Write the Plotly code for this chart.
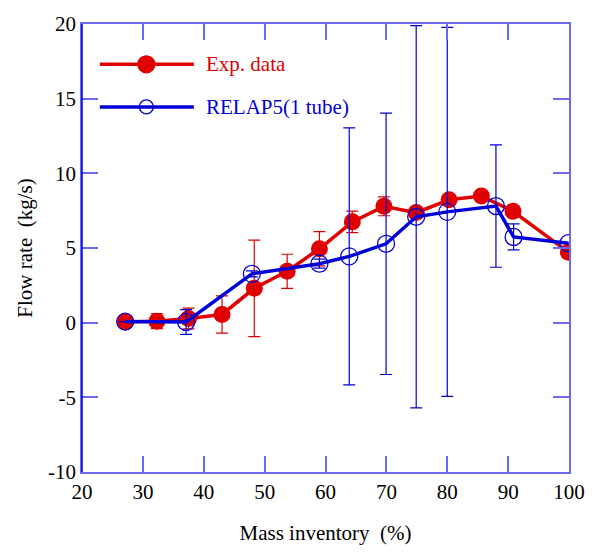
import plotly.graph_objects as go

# Experimental data
exp_x = [27.1, 32.3, 37.5, 43.0, 48.3, 53.7, 59.0, 64.4, 69.6, 74.9, 80.3, 85.6, 90.8, 99.9]
exp_y = [0.05, 0.1, 0.28, 0.55, 2.3, 3.44, 4.95, 6.75, 7.79, 7.37, 8.23, 8.48, 7.46, 4.72]
exp_err = [0.0, 0.5, 0.7, 1.25, 3.23, 1.14, 1.15, 0.72, 0.63, 0.0, 0.0, 0.0, 0.0, 0.0]

# RELAP5 (1 tube)
rel_x = [27.1, 37.1, 47.9, 59.0, 63.9, 69.95, 74.9, 80.0, 88.0, 90.9, 99.9]
rel_y = [0.07, 0.05, 3.27, 3.95, 4.44, 5.28, 7.09, 7.42, 7.81, 5.74, 5.32]
rel_err = [0.0, 0.83, 0.2, 0.3, 8.6, 8.75, 12.8, 12.35, 4.1, 0.87, 0.0]

x_ticks = [20, 30, 40, 50, 60, 70, 80, 90, 100]
x_labels = ["20", "30", "40", "50", "60", "70", "80", "90", "100"]
y_ticks = [-10, -5, 0, 5, 10, 15, 20]
y_labels = ["-10", "-5", "0", "5", "10", "15", "20"]

RED = "#e00000"
BLUE = "#0000d8"
FRAME = "#6a6af0"
FONT = "Liberation Serif"
XR = [20, 100]
YR = [-10, 20]

fig = go.Figure()

fig.add_trace(go.Scatter(
    x=exp_x, y=exp_y, mode="lines+markers", name="Exp. data",
    line=dict(color=RED, width=3.5),
    marker=dict(symbol="circle", size=17, color=RED),
    error_y=dict(type="data", array=exp_err, color=RED, thickness=1.2, width=6),
    showlegend=False,
))
fig.add_trace(go.Scatter(
    x=rel_x, y=rel_y, mode="lines+markers", name="RELAP5(1 tube)",
    line=dict(color=BLUE, width=3.5),
    marker=dict(symbol="circle-open", size=17, color=BLUE, line=dict(width=1.3, color=BLUE)),
    error_y=dict(type="data", array=rel_err, color=BLUE, thickness=1.2, width=6),
    showlegend=False,
))

# Custom legend (decoration, positioned in paper fractions)
def px_to_frac_x(px):
    return (px - 82) / 492

legend_items = [("Exp. data", RED, "circle", 17, 0.910), ("RELAP5(1 tube)", BLUE, "circle-open", 14, 0.815)]
for label, col, sym, sz, yp in legend_items:
    fig.add_shape(type="line", xref="paper", yref="paper",
                  x0=px_to_frac_x(100), x1=px_to_frac_x(195), y0=yp, y1=yp,
                  line=dict(color=col, width=3.5))
    fig.add_annotation(xref="paper", yref="paper", x=px_to_frac_x(205), y=yp, text=label,
                       showarrow=False, xanchor="left", yanchor="middle",
                       font=dict(family=FONT, size=21, color=col))
    mx = XR[0] + px_to_frac_x(147) * (XR[1] - XR[0])
    my = YR[0] + yp * (YR[1] - YR[0])
    fig.add_trace(go.Scatter(x=[mx], y=[my], mode="markers", showlegend=False, hoverinfo="skip",
                             marker=dict(symbol=sym, size=sz, color=col, line=dict(width=1.3, color=col))))

# dark left axis line
fig.add_shape(type="line", xref="paper", yref="paper", x0=0, x1=0, y0=0, y1=1,
              line=dict(color="#0000e8", width=1.5))

fig.update_layout(
    width=597, height=553,
    margin=dict(l=82, r=23, t=20, b=80),
    paper_bgcolor="white", plot_bgcolor="white",
)
fig.update_xaxes(range=XR, tickvals=x_ticks, ticktext=x_labels,
                 ticks="inside", ticklen=16, tickcolor=FRAME, tickwidth=1.5,
                 showline=True, linecolor=FRAME, linewidth=1.5, mirror="allticks",
                 showgrid=False, zeroline=False,
                 tickfont=dict(family=FONT, size=21, color="black"),
                 title=dict(text="Mass inventory  (%)", font=dict(family=FONT, size=21, color="black"), standoff=22))
fig.update_yaxes(range=YR, tickvals=y_ticks, ticktext=y_labels,
                 ticks="inside", ticklen=16, tickcolor=FRAME, tickwidth=1.5,
                 showline=True, linecolor=FRAME, linewidth=1.5, mirror="allticks",
                 showgrid=False, zeroline=False,
                 tickfont=dict(family=FONT, size=21, color="black"),
                 title=dict(text="Flow rate  (kg/s)", font=dict(family=FONT, size=21, color="black"), standoff=10))

fig.write_html("out.html")
